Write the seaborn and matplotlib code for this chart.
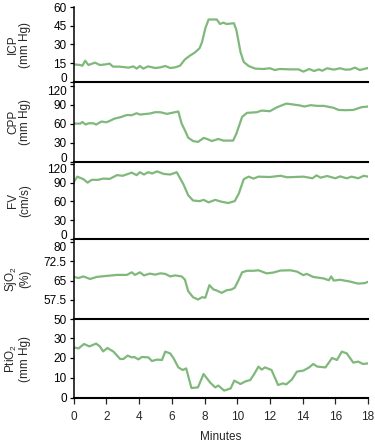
import matplotlib
matplotlib.use("Agg")
import matplotlib.pyplot as plt
import matplotlib.transforms as mtrans
import seaborn as sns
import pandas as pd

# ---- data ----
icp_t = [0, 0.4, 0.53, 0.7, 0.9, 1.3, 1.6, 1.9, 2.2, 2.4, 2.8, 3.35, 3.65, 3.85, 4.05, 4.25,
         4.55, 4.98, 5.3, 5.6, 5.9, 6.2, 6.5, 6.8, 7.1, 7.4, 7.7, 7.85, 8.05, 8.25, 8.75, 8.95,
         9.15, 9.35, 9.8, 9.95, 10.2, 10.4, 10.7, 11.1, 11.6, 12.0, 12.3, 12.6, 13.25, 13.75,
         14.05, 14.4, 14.7, 15.0, 15.2, 15.5, 15.9, 16.3, 16.6, 16.9, 17.2, 17.5, 18.0]
icp_v = [14.1, 13.6, 13, 17, 13.6, 15.5, 13.6, 14, 14.7, 12.3, 12.3, 11.5, 12.5, 10.7, 12.8, 10.7,
         12.5, 11.2, 11.7, 12.8, 11.2, 11.7, 13, 18, 21, 23.5, 27, 32, 43, 50, 50, 46.4,
         47.5, 46.4, 47, 41.6, 24, 16, 12.8, 10.7, 10.4, 11, 9.6, 10.4, 10.1, 10.1,
         8.3, 10.4, 8.8, 10.1, 9, 11, 9.9, 11, 9.9, 10, 11.5, 9.6, 11.2]

cpp_t = [0, 0.4, 0.53, 0.73, 0.9, 1.2, 1.37, 1.7, 2.0, 2.2, 2.5, 2.85, 3.25, 3.55, 3.85, 4.05,
         4.65, 4.98, 5.3, 5.7, 6.1, 6.4, 6.6, 6.8, 7.0, 7.3, 7.6, 7.95, 8.15, 8.45, 8.85, 9.15,
         9.75, 9.95, 10.3, 10.6, 11.2, 11.5, 12.0, 12.4, 13.0, 13.45, 13.85, 14.1, 14.5, 14.9,
         15.3, 15.9, 16.2, 16.6, 17.1, 17.6, 18.0]
cpp_v = [60.5, 60.5, 63, 59, 61, 61, 59, 63.7, 62.6, 64.7, 68.4, 70.5, 74, 73.7, 76.8, 74.7,
         76.3, 78.4, 78.4, 75.8, 77.9, 79.5, 60.5, 50, 38.4, 33, 31.6, 37.9, 36.3, 33, 36.3, 33.7,
         33.7, 44.7, 71, 77.4, 78.4, 81, 80, 85.8, 92, 90.5, 89, 87.4, 89.5, 88.4,
         88.4, 85.3, 82, 81.6, 82, 86.3, 87.4]

fv_t = [0, 0.22, 0.6, 0.85, 1.1, 1.5, 1.8, 2.2, 2.65, 3.0, 3.55, 3.85, 4.05, 4.3, 4.55, 4.8,
        5.1, 5.5, 5.9, 6.3, 6.7, 7.0, 7.3, 7.7, 7.95, 8.25, 8.65, 9.05, 9.45, 9.85, 10.1, 10.4,
        10.7, 11.0, 11.3, 12.0, 12.65, 13.05, 14.05, 14.6, 14.85, 15.1, 15.5, 16.0, 16.3, 16.7,
        17.0, 17.4, 17.75, 18.0]
fv_v = [90.5, 99.6, 95.5, 90, 94.5, 94.5, 96.5, 96, 102, 101, 106, 102, 106.7, 103, 106.7, 104.7,
        108, 104, 103, 106.7, 88, 70, 61.5, 60.5, 62.5, 58.5, 62.5, 59.5, 57.5, 60.5, 72.7, 95.5,
        99.6, 96.5, 99.6, 99, 101, 98.6, 99.6, 97, 101.6, 98, 100.6, 97, 100, 97,
        99.6, 97, 101, 99.6]

sjo2_t = [0, 0.3, 0.6, 1.0, 1.4, 2.0, 2.65, 3.25, 3.55, 3.75, 4.05, 4.3, 4.65, 4.98, 5.3, 5.6,
          5.9, 6.2, 6.6, 6.8, 7.0, 7.3, 7.6, 7.85, 8.05, 8.3, 8.55, 8.75, 9.05, 9.35, 9.65, 9.85,
          10.1, 10.3, 10.6, 11.0, 11.3, 11.8, 12.2, 12.65, 13.25, 13.65, 14.05, 14.25, 14.65,
          15.3, 15.6, 15.75, 15.9, 16.3, 16.9, 17.4, 17.8, 18.0]
sjo2_v = [66.4, 66, 66.6, 65.6, 66.4, 66.8, 67.2, 67.2, 68.2, 67.2, 68.2, 67, 67.7, 67.3, 67.8, 67.6,
          66.6, 67, 66.6, 65.4, 60.9, 58.5, 57.6, 58.5, 58.3, 63.2, 61.5, 61.1, 60.2, 61.2, 61.5, 62.2,
          65.4, 68.2, 68.8, 68.8, 69, 67.8, 68.1, 68.9, 69, 68.5, 67.1, 67.6, 66.4,
          65.8, 65.1, 66.6, 65, 65.3, 64.6, 63.8, 64, 64.5]

pti_t = [0, 0.3, 0.63, 0.96, 1.37, 1.6, 1.8, 2.06, 2.43, 2.84, 3.04, 3.3, 3.55, 3.7, 3.96, 4.16,
         4.57, 4.78, 5.1, 5.4, 5.6, 5.9, 6.1, 6.4, 6.67, 6.88, 7.2, 7.6, 7.94, 8.35, 8.65, 8.85,
         9.2, 9.6, 9.82, 10.2, 10.5, 10.8, 11.04, 11.3, 11.5, 11.7, 12.1, 12.5, 12.8, 13.0,
         13.35, 13.65, 14.05, 14.4, 14.65, 14.9, 15.4, 15.8, 16.1, 16.4, 16.7, 17.1, 17.4, 17.7, 18.0]
pti_v = [25.3, 24.8, 27, 25.8, 27.2, 25.8, 23.3, 25, 23.2, 19.5, 19.5, 21.2, 20.3, 20.5, 19.3, 20.5,
         20.3, 18.5, 19.2, 19, 23.2, 22.3, 20, 15.3, 14, 14.8, 5, 5.3, 12, 7.7, 5.3, 6.2,
         3.7, 4.8, 8.7, 7, 8.3, 9, 12, 15.7, 14.2, 15.3, 14, 6.5, 7.3, 6.8,
         9.3, 13.2, 13.7, 15.3, 17, 15.7, 15.3, 20, 19, 23.2, 22.3, 17.7, 18.2, 17, 17.3]

labels = ["ICP\n(mm Hg)", "CPP\n(mm Hg)", "FV\n(cm/s)", "SjO$_2$\n(%)", "PtiO$_2$\n(mm Hg)"]
yticks = [[0, 15, 30, 45, 60], [0, 30, 60, 90, 120], [0, 30, 60, 90, 120],
          [50, 57.5, 65, 72.5, 80], [0, 10, 20, 30]]
ytick_labels = [["0", "15", "30", "45", "60"], ["0", "30", "60", "90", "120"],
                ["0", "30", "60", "90", "120"], ["50", "57.5", "65", "72.5", "80"],
                ["0", "10", "20", "30"]]
xticks = [0, 2, 4, 6, 8, 10, 12, 14, 16, 18]

# ---- style ----
sns.set_style("ticks")
plt.rcParams["font.family"] = ["Liberation Sans", "DejaVu Sans"]
plt.rcParams["font.size"] = 8
plt.rcParams["mathtext.fontset"] = "custom"
plt.rcParams["mathtext.rm"] = "Liberation Sans"
plt.rcParams["mathtext.it"] = "Liberation Sans:italic"

W, H = 375, 444
fig = plt.figure(figsize=(W / 100, H / 100), dpi=100)

left_px, right_px = 73.7, 368
bounds = [(7, 82), (82, 162), (162, 239), (239, 319), (319, 398)]
ylims = [(0, 60), (0, 126), (0, 123), (50, 81.2), (0, 39.5)]
series = [(icp_t, icp_v), (cpp_t, cpp_v), (fv_t, fv_v), (sjo2_t, sjo2_v), (pti_t, pti_v)]
color = "#80b87c"


def shift(lbl, dy_px):
    lbl.set_transform(lbl.get_transform() +
                      mtrans.ScaledTranslation(0, dy_px / 100, fig.dpi_scale_trans))


axes = []
for i, ((top, bot), (t, v)) in enumerate(zip(bounds, series)):
    ax = fig.add_axes([left_px / W, 1 - bot / H, (right_px - left_px) / W, (bot - top) / H])
    df = pd.DataFrame({"Minutes": t, "value": v})
    sns.lineplot(data=df, x="Minutes", y="value", ax=ax, color=color, linewidth=1.6)
    ax.set_xlim(0, 18)
    ax.set_ylim(*ylims[i])
    ax.set_yticks(yticks[i])
    ax.set_yticklabels(ytick_labels[i])
    ax.tick_params(axis="y", direction="out", length=3, width=0.9, pad=2, labelsize=8.5,
                   color="black", labelcolor="black")
    for s in ["top", "right"]:
        ax.spines[s].set_visible(False)
    ax.spines["left"].set_linewidth(1.1)
    ax.spines["bottom"].set_linewidth(1.5)
    ax.spines["left"].set_color("black")
    ax.spines["bottom"].set_color("black")
    ax.set_ylabel(labels[i], fontsize=8.5, linespacing=1.0)
    ax.yaxis.set_label_coords((31 - left_px) / (right_px - left_px), 0.5)
    ax.patch.set_alpha(0)
    if i < 4:
        ax.set_xticks([])
        ax.set_xlabel("")
    else:
        ax.set_xticks(xticks)
        ax.set_xticklabels([str(x) for x in xticks])
        ax.tick_params(axis="x", direction="out", length=4, width=0.9, pad=5, labelsize=8.5)
        ax.set_xlabel("Minutes", fontsize=8.5, labelpad=6)
    ylabels = ax.get_yticklabels()
    # boundary labels are nudged apart as in the reference
    if i in (0, 1, 2):
        shift(ylabels[0], 4.5)
    if i in (1, 2, 3):
        shift(ylabels[-1], -4.5)
    axes.append(ax)

fig.savefig("out.png", dpi=100)
